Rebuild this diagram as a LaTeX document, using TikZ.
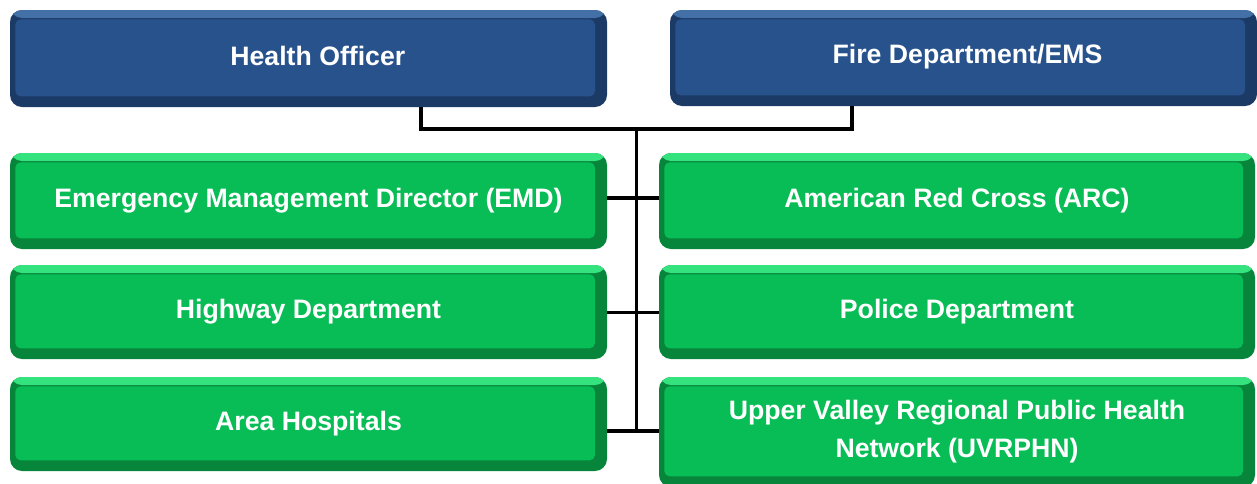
\documentclass[tikz,border=0pt]{standalone}
\usepackage{fontspec}
\setmainfont{Liberation Sans}
\definecolor{bmain}{HTML}{27528B}
\definecolor{blight}{HTML}{4470A8}
\definecolor{bdark}{HTML}{1C3A66}
\definecolor{gmain}{HTML}{09BD56}
\definecolor{glight}{HTML}{34E27E}
\definecolor{gdark}{HTML}{07853B}
\tikzset{
  boxtext/.style={text=white, font=\fontsize{20}{28.5}\selectfont\bfseries, align=center, inner sep=0pt},
  bev/.style n args={3}{fill=#3, rounded corners=9pt, inner sep=0pt, boxtext,
    path picture={
      \fill[#2] (path picture bounding box.north west) rectangle ([yshift=-6pt]path picture bounding box.north east);
      \fill[#1, rounded corners=4pt] ([xshift=4pt,yshift=-7pt]path picture bounding box.north west) rectangle ([xshift=-9pt,yshift=8pt]path picture bounding box.south east);
    }},
  bluebox/.style={bev={bmain}{blight}{bdark}},
  greenbox/.style={bev={gmain}{glight}{gdark}},
  conn/.style={draw=black, line width=2.4pt},
}
\begin{document}
\begin{tikzpicture}[x=0.75pt,y=-0.75pt]
\useasboundingbox (0,0) rectangle (1257,483);
% coordinates for connectors
\coordinate (top) at (636.5,129);
\coordinate (hx) at (421,0);
\coordinate (fx) at (852,0);
\coordinate (b1) at (636.5,198);
\coordinate (b2) at (636.5,312.5);
\coordinate (b3) at (636.5,431);
% nodes
\node[bluebox, minimum width=597*0.75pt, minimum height=97*0.75pt] (ho) at (308.5,58.5) {};
\node[boxtext] (hot) at ([xshift=7pt,yshift=2pt]ho.center) {Health Officer};
\node[bluebox, minimum width=587*0.75pt, minimum height=96*0.75pt] (fd) at (963.5,58) {};
\node[boxtext] (fdt) at ([xshift=3pt,yshift=1pt]fd.center) {Fire Department/EMS};
\node[greenbox, minimum width=597*0.75pt, minimum height=96*0.75pt] (emd) at (308.5,201) {Emergency Management Director (EMD)};
\node[greenbox, minimum width=596*0.75pt, minimum height=96*0.75pt] (arc) at (957,201) {American Red Cross (ARC)};
\node[greenbox, minimum width=597*0.75pt, minimum height=94*0.75pt] (hw) at (308.5,312) {Highway Department};
\node[greenbox, minimum width=596*0.75pt, minimum height=94*0.75pt] (pd) at (957,312) {Police Department};
\node[greenbox, minimum width=597*0.75pt, minimum height=94*0.75pt] (ah) at (308.5,424) {Area Hospitals};
\node[greenbox, minimum width=596*0.75pt, minimum height=110*0.75pt] (uv) at (957,432) {Upper Valley Regional Public Health\\Network (UVRPHN)};
% connectors
\draw[conn] (hx |- ho.south) |- (top) -| (fx |- fd.south);
\draw[conn] (top) -- (b3);
\draw[conn] (b1 -| emd.east) -- (b1 -| arc.west);
\draw[conn] (b2 -| hw.east) -- (b2 -| pd.west);
\draw[conn] (b3 -| ah.east) -- (b3 -| uv.west);
\end{tikzpicture}
\end{document}
